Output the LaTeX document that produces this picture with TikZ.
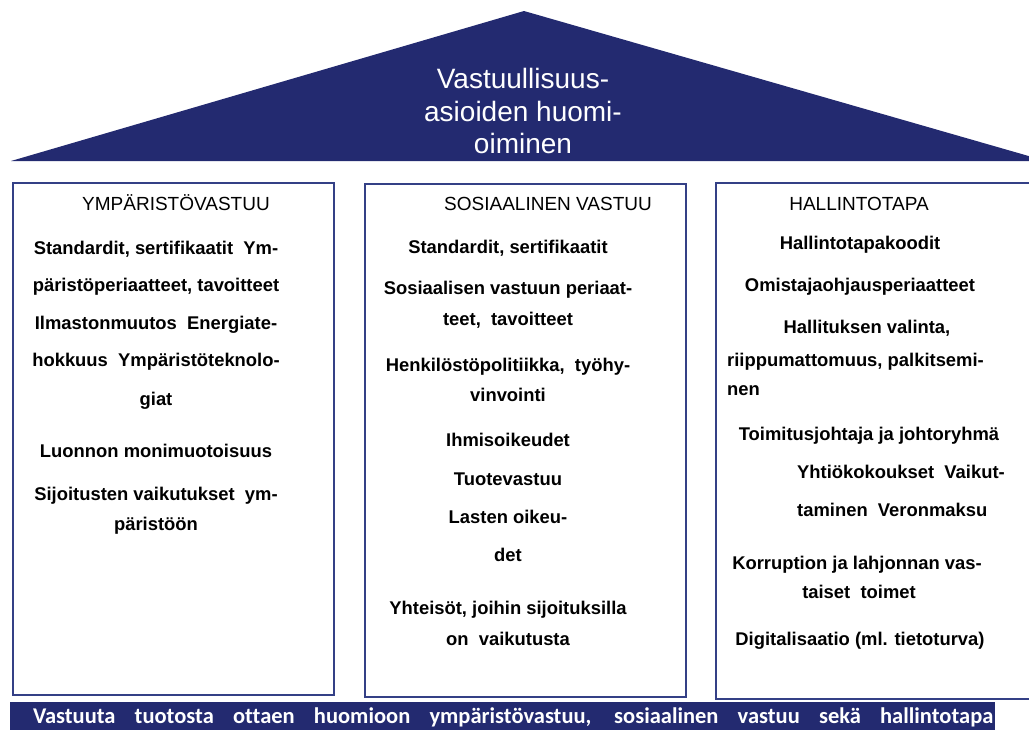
\documentclass[tikz,border=0pt]{standalone}
\usepackage{fontspec}
\setmainfont{Liberation Sans}
\newfontfamily\barfont[Ligatures=NoCommon]{Carlito}
\definecolor{navy}{RGB}{35,42,112}
\definecolor{edge}{RGB}{52,64,134}
\begin{document}
\begin{tikzpicture}[x=1pt,y=-1pt,
  roof/.style={font=\fontsize{28}{32}\selectfont, text=white, inner sep=0pt, anchor=base},
  head/.style={font=\fontsize{19}{22}\selectfont, inner sep=0pt, anchor=base},
  item/.style={font=\fontsize{18.4}{22}\selectfont\bfseries, inner sep=0pt, anchor=base},
  itemL/.style={item, anchor=base west},
  colbox/.style={draw=edge, line width=1.4pt},
  bartext/.style={font=\barfont\fontsize{22.5}{26}\selectfont\bfseries, text=white, inner sep=0pt, anchor=base}]
\useasboundingbox (0,0) rectangle (1029,729);
\begin{scope}
\clip (0,0) rectangle (1029,729);
\fill[navy] (11,161) -- (524,11) -- (1046,161) -- cycle;
\draw[colbox] (13,183) rectangle (334,695);
\draw[colbox] (365,184) rectangle (686,697);
\draw[colbox] (716,183) rectangle (1045,699);
\fill[navy] (10,702) rectangle (995,735);
\end{scope}
% roof text
\node[roof] (r1) at (523,88) {Vastuullisuus-};
\node[roof] (r2) at (523,121) {asioiden huomi-};
\node[roof] (r3) at (523,153) {oiminen};
% column 1
\node[head] (h1) at (176,210) {YMPÄRISTÖVASTUU};
\node[item] (a1) at (156,254) {Standardit, sertifikaatit\ \ Ym-};
\node[item] (a2) at (156,291) {päristöperiaatteet, tavoitteet};
\node[item] (a3) at (156,329) {Ilmastonmuutos\ \ Energiate-};
\node[item] (a4) at (156,366) {hokkuus\ \ Ympäristöteknolo-};
\node[item] (a5) at (156,405) {giat};
\node[item] (a6) at (156,457) {Luonnon monimuotoisuus};
\node[item] (a7) at (156,500) {Sijoitusten vaikutukset\ \ ym-};
\node[item] (a8) at (156,530) {päristöön};
% column 2
\node[head] (h2) at (548,210) {SOSIAALINEN VASTUU};
\node[item] (b1) at (508,253) {Standardit, sertifikaatit};
\node[item] (b2) at (508,294) {Sosiaalisen vastuun periaat-};
\node[item] (b3) at (508,325) {teet,\ \ tavoitteet};
\node[item] (b4) at (508,371) {Henkilöstöpolitiikka,\ \ työhy-};
\node[item] (b5) at (508,401) {vinvointi};
\node[item] (b6) at (508,446) {Ihmisoikeudet};
\node[item] (b7) at (508,485) {Tuotevastuu};
\node[item] (b8) at (508,523) {Lasten oikeu-};
\node[item] (b9) at (508,561) {det};
\node[item] (b10) at (508,614) {Yhteisöt, joihin sijoituksilla};
\node[item] (b11) at (508,645) {on\ \ vaikutusta};
% column 3
\node[head] (h3) at (859,210) {HALLINTOTAPA};
\node[item] (c1) at (860,249) {Hallintotapakoodit};
\node[item] (c2) at (860,291) {Omistajaohjausperiaatteet};
\node[item] (c3) at (867,333) {Hallituksen valinta,};
\node[itemL] (c4) at (727,366) {riippumattomuus, palkitsemi-};
\node[itemL] (c5) at (727,395) {nen};
\node[item] (c6) at (869,440) {Toimitusjohtaja ja johtoryhmä};
\node[itemL] (c7) at (797,478) {Yhtiökokoukset\ \ Vaikut-};
\node[itemL] (c8) at (797,516) {taminen\ \ Veronmaksu};
\node[item] (c9) at (857,569) {Korruption ja lahjonnan vas-};
\node[item] (c10) at (859,598) {taiset\ \ toimet};
\node[item] (c11) at (860,645) {Digitalisaatio (ml. tietoturva)};
% bottom bar
\node[bartext] (bar) at (513,723) {\makebox[960pt][s]{Vastuuta tuotosta ottaen huomioon ympäristövastuu, sosiaalinen vastuu sekä hallintotapa}};
\end{tikzpicture}
\end{document}
